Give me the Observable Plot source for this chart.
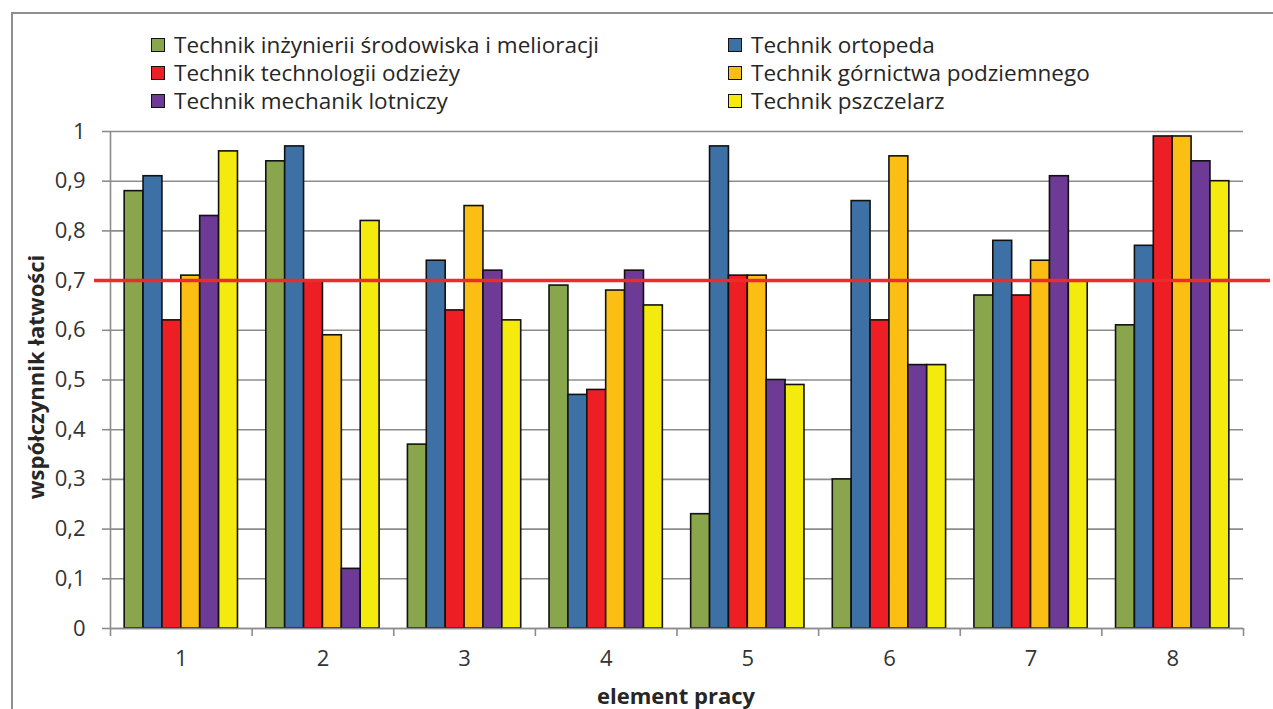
<!DOCTYPE html>
<html>
<head>
<meta charset="utf-8">
<script src="https://cdn.jsdelivr.net/npm/d3@7"></script>
<script src="https://cdn.jsdelivr.net/npm/@observablehq/plot@0.6"></script>
<style>
  html, body { margin: 0; padding: 0; background: #fff; }
  #wrap { position: relative; width: 1273px; height: 709px; overflow: hidden; font-family: "Open Sans", "Noto Sans", sans-serif; color: #333; }
  #border { position: absolute; left: 11px; top: 12px; width: 1300px; height: 800px; border: 2px solid #8e8e8e; box-sizing: border-box; }
  #chart { position: absolute; left: 0; top: 0; }
  .legend-item { position: absolute; display: flex; align-items: center; white-space: nowrap; font-size: 22.5px; line-height: 1; height: 24px; color: #262626; transform: translateY(-50%); }
  .swatch { width: 12px; height: 12px; border: 1.6px solid #111; margin-right: 9px; flex: none; }
  .title { position: absolute; font-weight: bold; font-size: 22px; line-height: 1; color: #262626; white-space: nowrap; }
</style>
</head>
<body>
<div id="wrap">
  <div id="border"></div>
  <div id="chart"></div>
  <div id="legend"></div>
  <div class="title" id="ytitle" style="left:35px; top:377px; transform: translate(-50%,-50%) rotate(-90deg);">współczynnik łatwości</div>
  <div class="title" id="xtitle" style="left:676px; top:695px; transform: translate(-50%,-50%);">element pracy</div>
</div>
<script>
// ---- data ----
const groups = ["1", "2", "3", "4", "5", "6", "7", "8"];
const seriesNames = [
  "Technik inżynierii środowiska i melioracji",
  "Technik ortopeda",
  "Technik technologii odzieży",
  "Technik górnictwa podziemnego",
  "Technik mechanik lotniczy",
  "Technik pszczelarz"
];
const seriesColors = ["#8aa64c", "#3d70a4", "#ed1f24", "#fbbf14", "#6d3a96", "#f4ea0d"];
const inzynieriiSrodowiska = [0.88, 0.94, 0.37, 0.69, 0.23, 0.30, 0.67, 0.61];
const ortopeda            = [0.91, 0.97, 0.74, 0.47, 0.97, 0.86, 0.78, 0.77];
const technologiiOdziezy  = [0.62, 0.70, 0.64, 0.48, 0.71, 0.62, 0.67, 0.99];
const gornictwaPodziemnego= [0.71, 0.59, 0.85, 0.68, 0.71, 0.95, 0.74, 0.99];
const mechanikLotniczy    = [0.83, 0.12, 0.72, 0.72, 0.50, 0.53, 0.91, 0.94];
const pszczelarz          = [0.96, 0.82, 0.62, 0.65, 0.49, 0.53, 0.70, 0.90];
const yTicks = [0, 0.1, 0.2, 0.3, 0.4, 0.5, 0.6, 0.7, 0.8, 0.9, 1];
const threshold = 0.7;

// ---- build table ----
const seriesValues = [inzynieriiSrodowiska, ortopeda, technologiiOdziezy, gornictwaPodziemnego, mechanikLotniczy, pszczelarz];
const rows = [];
seriesValues.forEach((vals, si) => {
  vals.forEach((v, gi) => rows.push({group: groups[gi], gi, si, series: seriesNames[si], value: v}));
});

// band layout within each category (Excel-like gap)
const groupPad = 0.1;
const barW = (1 - 2 * groupPad) / seriesNames.length;

const fmt = d => d === 0 ? "0" : d === 1 ? "1" : d.toFixed(1).replace(".", ",");
const FONT = "'Open Sans', 'Noto Sans', sans-serif";

const chart = Plot.plot({
  width: 1273,
  height: 709,
  marginLeft: 110,
  marginRight: 30,
  marginTop: 131,
  marginBottom: 81,
  style: {fontFamily: FONT, fontSize: "22px", background: "transparent", overflow: "visible"},
  x: {type: "linear", domain: [0, groups.length], axis: null},
  y: {domain: [0, 1], axis: null},
  color: {domain: seriesNames, range: seriesColors},
  marks: [
    Plot.gridY(yTicks, {stroke: "#8c8c8c", strokeOpacity: 1, strokeWidth: 1.6}),
    Plot.rect(rows, {
      x1: d => d.gi + groupPad + d.si * barW,
      x2: d => d.gi + groupPad + (d.si + 1) * barW,
      y1: 0,
      y2: "value",
      fill: "series",
      stroke: "#111",
      strokeWidth: 1.6
    }),
    Plot.ruleX([0], {stroke: "#8c8c8c", strokeWidth: 1.6}),
    Plot.ruleY([0], {stroke: "#8c8c8c", strokeWidth: 1.6}),
    Plot.axisY(yTicks, {tickSize: 8, tickPadding: 17, tickFormat: fmt, label: null, stroke: "#8c8c8c", strokeWidth: 1.6, fill: "#333", fontSize: 22, fontFamily: FONT}),
    Plot.axisX(d3.range(0, groups.length + 1), {tickSize: 8, tickFormat: () => "", label: null, stroke: "#8c8c8c", strokeWidth: 1.6}),
    Plot.axisX(groups.map((g, i) => i + 0.5), {tickSize: 0, tickPadding: 22, tickFormat: d => groups[Math.floor(d)], label: null, fill: "#333", fontSize: 22, fontFamily: FONT}),
    Plot.ruleY([threshold], {stroke: "#ee2a2a", strokeWidth: 3.5, insetLeft: -16, insetRight: -27})
  ]
});
document.getElementById("chart").appendChild(chart);

// ---- legend (2 columns, row-major) ----
const legend = document.getElementById("legend");
const colLeft = [151, 728];
const rowCenter = [45, 73, 101];
seriesNames.forEach((name, i) => {
  const item = document.createElement("div");
  item.className = "legend-item";
  item.style.left = colLeft[i % 2] + "px";
  item.style.top = rowCenter[Math.floor(i / 2)] + "px";
  const sw = document.createElement("span");
  sw.className = "swatch";
  sw.style.background = seriesColors[i];
  const tx = document.createElement("span");
  tx.textContent = name;
  item.appendChild(sw);
  item.appendChild(tx);
  legend.appendChild(item);
});
</script>
</body>
</html>
